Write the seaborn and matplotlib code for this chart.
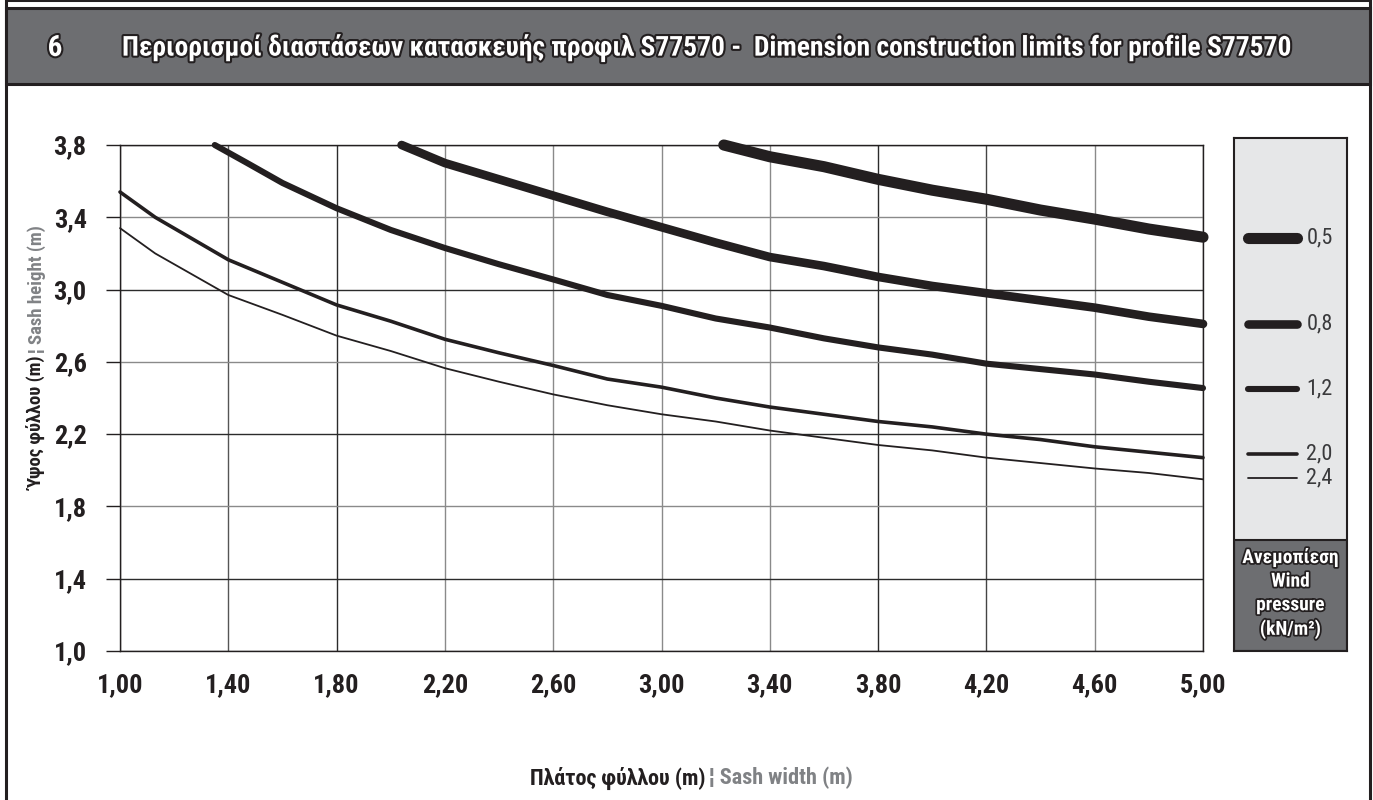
import matplotlib
matplotlib.use('Agg')
import matplotlib.pyplot as plt
import matplotlib.patheffects as pe
from matplotlib.patches import Rectangle
import pandas as pd
import seaborn as sns

# wind pressure classes (kN/m2) and their limit curves
pressures = ['0,5', '0,8', '1,2', '2,0', '2,4']

x_05 = [3.23, 3.4, 3.6, 3.8, 4.0, 4.2, 4.4, 4.6, 4.8, 5.0]
y_05 = [3.80, 3.735, 3.68, 3.61, 3.55, 3.50, 3.44, 3.39, 3.335, 3.29]

x_08 = [2.04, 2.2, 2.4, 2.6, 2.8, 3.0, 3.2, 3.4, 3.6, 3.8, 4.0, 4.2, 4.4, 4.6, 4.8, 5.0]
y_08 = [3.80, 3.70, 3.61, 3.52, 3.43, 3.345, 3.26, 3.18, 3.13, 3.07, 3.02, 2.98, 2.94, 2.90, 2.85, 2.81]

x_12 = [1.35, 1.47, 1.6, 1.8, 2.0, 2.2, 2.4, 2.6, 2.8, 3.0, 3.2, 3.4, 3.6, 3.8, 4.0, 4.2, 4.4, 4.6, 4.8, 5.0]
y_12 = [3.80, 3.70, 3.59, 3.45, 3.33, 3.23, 3.14, 3.056, 2.97, 2.91, 2.84, 2.79, 2.73, 2.68, 2.64, 2.59,
        2.56, 2.53, 2.49, 2.455]

x_20 = [1.0, 1.13, 1.4, 1.6, 1.8, 2.0, 2.2, 2.4, 2.6, 2.8, 3.0, 3.2, 3.4, 3.6, 3.8, 4.0, 4.2, 4.4, 4.6, 4.8, 5.0]
y_20 = [3.54, 3.40, 3.165, 3.04, 2.915, 2.825, 2.725, 2.65, 2.58, 2.505, 2.46, 2.40, 2.35, 2.31, 2.27, 2.24,
        2.20, 2.17, 2.13, 2.10, 2.07]

x_24 = [1.0, 1.13, 1.4, 1.6, 1.8, 2.0, 2.2, 2.4, 2.6, 2.8, 3.0, 3.2, 3.4, 3.6, 3.8, 4.0, 4.2, 4.4, 4.6, 4.8, 5.0]
y_24 = [3.34, 3.20, 2.97, 2.86, 2.745, 2.66, 2.565, 2.49, 2.42, 2.36, 2.31, 2.27, 2.22, 2.18, 2.14, 2.11,
        2.07, 2.04, 2.01, 1.985, 1.95]

x_ticks = [1.0, 1.4, 1.8, 2.2, 2.6, 3.0, 3.4, 3.8, 4.2, 4.6, 5.0]
y_ticks = [1.0, 1.4, 1.8, 2.2, 2.6, 3.0, 3.4, 3.8]

curves = [(x_05, y_05), (x_08, y_08), (x_12, y_12), (x_20, y_20), (x_24, y_24)]
widths = [8.0, 6.2, 4.4, 2.6, 1.3]

ink = '#231f20'
bar_grey = '#6d6e71'
label_grey = '#808285'
# the printed grid is uneven: some lines dark, some grey
dark, soft = '#2b2b2b', '#8a8a8a'
xgrid_shade = [dark, '#555555', dark, soft, soft, soft, soft, dark, '#444444', soft, dark]
ygrid_shade = [dark, dark, soft, dark, soft, dark, soft, dark]

sns.set_theme(style='white')
plt.rcParams['font.family'] = ['Roboto Condensed', 'DejaVu Sans']

W, H = 1373, 800
fig = plt.figure(figsize=(W / 100, H / 100), dpi=100)


def fx(px):
    return px / W


def fy(py):
    return 1 - py / H


# outer frame and title bar
fig.patches.append(Rectangle((fx(6), fy(805)), fx(1364), 805 / H, transform=fig.transFigure,
                             facecolor='none', edgecolor=ink, linewidth=2.2, zorder=-1))
fig.patches.append(Rectangle((fx(6), fy(84)), fx(1364), 76 / H, transform=fig.transFigure,
                             facecolor=bar_grey, edgecolor=ink, linewidth=2.2, zorder=-1))
outline = [pe.withStroke(linewidth=3, foreground=ink)]
fig.text(fx(55), fy(48), '6', color='white', fontsize=21, fontweight='bold',
         ha='center', va='center', path_effects=outline)
fig.text(fx(122), fy(48),
         'Περιορισμοί διαστάσεων κατασκευής προφιλ S77570 -  Dimension construction limits for profile S77570',
         color='white', fontsize=19.8, fontweight='bold', ha='left', va='center', path_effects=outline)

# main chart
ax = fig.add_axes([fx(120), fy(651), fx(1203 - 120), (651 - 145) / H])
for (xs, ys), lw in zip(curves, widths):
    df = pd.DataFrame({'width': xs, 'height': ys})
    sns.lineplot(data=df, x='width', y='height', ax=ax, color=ink, linewidth=lw,
                 estimator=None, sort=False, legend=False)
for line in ax.lines:
    line.set_solid_capstyle('round')
    line.set_solid_joinstyle('round')
    line.set_clip_on(False)
    line.set_zorder(3)

ax.set_xlim(1.0, 5.0)
ax.set_ylim(1.0, 3.8)
ax.set_xticks(x_ticks)
ax.set_yticks(y_ticks)
ax.set_xticklabels([f'{v:.2f}'.replace('.', ',') for v in x_ticks])
ax.set_yticklabels([f'{v:.1f}'.replace('.', ',') for v in y_ticks])
ax.grid(True, color='#4a4a4a', linewidth=1.0)
ax.set_axisbelow(True)
for gl, c in zip(ax.get_xgridlines(), xgrid_shade):
    gl.set_color(c)
for gl, c in zip(ax.get_ygridlines(), ygrid_shade):
    gl.set_color(c)
for s in ax.spines.values():
    s.set_visible(True)
    s.set_color(ink)
    s.set_linewidth(1.0)
ax.tick_params(axis='y', which='major', length=10, width=1.0, color=ink, pad=14,
               labelsize=19, labelcolor=ink, left=True)
ax.tick_params(axis='x', which='major', length=0, pad=16, labelsize=19, labelcolor=ink)
for lab in ax.get_xticklabels() + ax.get_yticklabels():
    lab.set_fontweight('semibold')
ax.set_xlabel('')
ax.set_ylabel('')

# axis titles in two colours
fig.text(fx(705), fy(778), 'Πλάτος φύλλου (m)', color=ink, fontsize=16, fontweight='bold',
         ha='right', va='center')
fig.text(fx(709), fy(778), '¦ Sash width (m)', color=label_grey, fontsize=16, fontweight='bold',
         ha='left', va='center')
fig.text(fx(37), fy(356), 'Ύψος φύλλου (m)', color=ink, fontsize=13.5, fontweight='bold',
         ha='right', va='center', rotation=90, rotation_mode='anchor')
fig.text(fx(37), fy(353), '¦ Sash height (m)', color=label_grey, fontsize=13.5, fontweight='bold',
         ha='left', va='center', rotation=90, rotation_mode='anchor')

# legend panel
lax = fig.add_axes([fx(1234), fy(651), fx(1347 - 1234), (651 - 138) / H])
lax.set_xlim(0, 1)
lax.set_ylim(513, 0)
lax.set_facecolor('#e6e7e8')
lax.set_xticks([])
lax.set_yticks([])
for s in lax.spines.values():
    s.set_color(ink)
    s.set_linewidth(1.5)
lax.add_patch(Rectangle((0, 402), 1, 111, facecolor=bar_grey, edgecolor=ink, linewidth=1.5))
legend_y = [100, 186, 251, 316, 340]
for lab, lw, ly in zip(pressures, widths, legend_y):
    lax.plot([0.12, 0.56], [ly, ly], color=ink, linewidth=lw, solid_capstyle='round')
    lax.text(0.64, ly, lab, color='#3a3a3c', fontsize=16, ha='left', va='center')
lax.text(0.5, 456, 'Ανεμοπίεση\nWind\npressure\n(kN/m²)', color='white', fontsize=14,
         fontweight='bold', ha='center', va='center', linespacing=1.4,
         path_effects=[pe.withStroke(linewidth=2.5, foreground=ink)])

fig.savefig('out.png', dpi=100)
